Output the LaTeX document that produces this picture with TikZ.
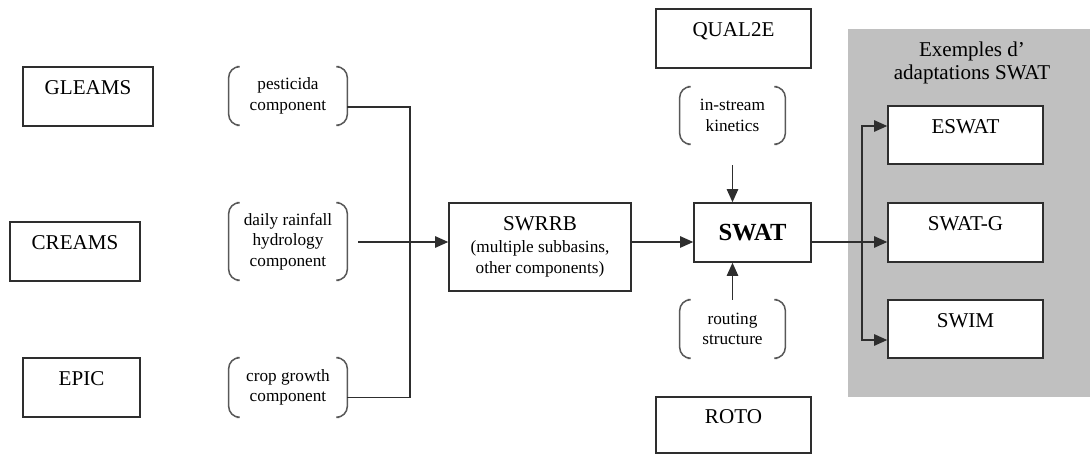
\documentclass[tikz,border=0pt]{standalone}
\usepackage{fontspec}
\setmainfont{Liberation Serif}
\usetikzlibrary{arrows.meta, calc}
\definecolor{inkline}{HTML}{2E2E2E}
\definecolor{panelgray}{HTML}{C0C0C0}

\begin{document}
\begin{tikzpicture}[
    x=0.02cm, y=-0.02cm,
    >={Triangle[length=7.5pt, width=6.5pt]},
    % ── shared styles ──
    model box/.style={draw=inkline, line width=0.85pt, fill=white,
        minimum width=#1, minimum height=1.18cm, inner sep=0pt,
        font=\fontsize{12}{14}\selectfont, text height=0.3cm, text depth=0.36cm},
    comp text/.style={align=center, inner sep=0pt, minimum width=2.36cm,
        minimum height=#1, font=\fontsize{9.8}{11.7}\selectfont},
    paren/.style={draw=inkline!80, line width=0.85pt, rounded corners=0.22cm},
    flow/.style={->, draw=inkline, line width=0.85pt},
    wire/.style={draw=inkline, line width=0.85pt},
    panel title/.style={align=center, font=\fontsize{12}{13}\selectfont},
]
\useasboundingbox (0,0) rectangle (1090,455);

% ══════════════════════════════════════════════════════════════════════
%  BRACKET MACRO
% ══════════════════════════════════════════════════════════════════════
\def\parens#1{%
  \draw[paren] ([xshift=0.16cm]#1.north west) -- (#1.north west)
      -- (#1.south west) -- ([xshift=0.16cm]#1.south west);
  \draw[paren] ([xshift=-0.16cm]#1.north east) -- (#1.north east)
      -- (#1.south east) -- ([xshift=-0.16cm]#1.south east);}

% ── adaptations panel ──
\fill[panelgray] (848,29) rectangle (1090,397);
\node[panel title] (adapt) at (972,63) {Exemples d’\\adaptations SWAT};

% ── source models ──
\node[model box=2.6cm]  (gleams) at (88,96.5)   {GLEAMS};
\node[model box=2.6cm]  (creams) at (75,251.5)  {CREAMS};
\node[model box=2.34cm] (epic)   at (81.5,387.5) {EPIC};

% ── components ──
\node[comp text=1.16cm] (pest) at (288,96)    {pesticida\\component};
\node[comp text=1.54cm] (rain) at (288,241.5) {daily rainfall\\hydrology\\component};
\node[comp text=1.18cm] (crop) at (288,387.5) {crop growth\\component};
\parens{pest}
\parens{rain}
\parens{crop}

% ── SWRRB / SWAT ──
\node[draw=inkline, line width=0.85pt, minimum width=3.64cm, minimum height=1.76cm,
    align=center, font=\fontsize{12}{12.2}\selectfont] (swrrb) at (540,247)
    {SWRRB\\{\fontsize{9.8}{12.2}\selectfont (multiple subbasins,}\\
     {\fontsize{9.8}{12.2}\selectfont other components)}};
\node[draw=inkline, line width=0.85pt, minimum width=2.34cm, minimum height=1.18cm,
    font=\fontsize{14}{16}\bfseries] (swat) at (752.5,232.5) {SWAT};

\node[model box=3.1cm] (qual) at (733.5,38.5) {QUAL2E};
\node[model box=3.1cm, minimum height=1.12cm] (roto) at (733.5,425) {ROTO};
\node[comp text=1.14cm, minimum width=2.1cm] (kin)  at (732.5,115.5) {in-stream\\kinetics};
\node[comp text=1.16cm, minimum width=2.1cm] (rout) at (732.5,329)   {routing\\structure};
\parens{kin}
\parens{rout}

% ── adaptations ──
\node[model box=3.1cm, minimum height=1.16cm] (eswat) at (965.5,135)   {ESWAT};
\node[model box=3.1cm]                        (swatg) at (965.5,232.5) {SWAT-G};
\node[model box=3.1cm, minimum height=1.16cm] (swim)  at (965.5,329)   {SWIM};

% ══════════════════════════════════════════════════════════════════════
%  CONNECTORS
% ══════════════════════════════════════════════════════════════════════
\coordinate (axis)  at (0,242);
\coordinate (bus)   at (410,242);
\coordinate (split) at (862,242);

\draw[wire] ([yshift=-0.22cm]pest.east) -| (bus) |- ([yshift=-0.2cm]crop.east);
\draw[flow] ([xshift=0.22cm]rain.east |- axis) -- (swrrb.west |- axis);
\draw[flow] (swrrb.east |- axis) -- (swat.west |- axis);
\draw[flow] ([yshift=-0.42cm]kin.south) -- (kin.south |- swat.north);
\draw[flow] (rout.north) -- (rout.north |- swat.south);
\draw[flow] (swat.east |- axis) -- (swatg.west |- axis);
\draw[flow] (split) |- ([yshift=0.18cm]eswat.west);
\draw[flow] (split) |- ([yshift=-0.22cm]swim.west);

\end{tikzpicture}
\end{document}
